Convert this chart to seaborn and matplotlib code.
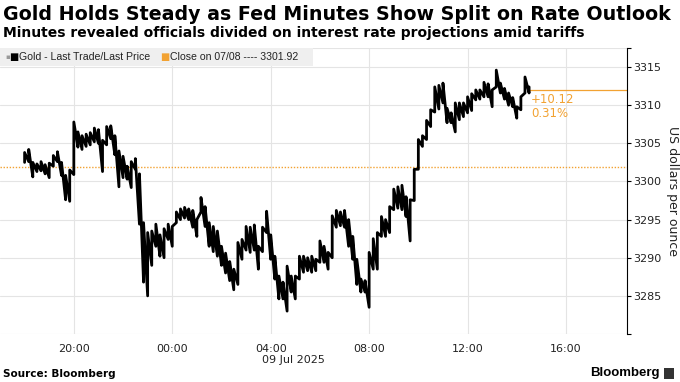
import pandas as pd
import numpy as np
import matplotlib
matplotlib.use('Agg')
import matplotlib.pyplot as plt
import matplotlib.dates as mdates
import seaborn as sns

# 10-minute high / low readings, gold spot, 18:00 Jul 8 -> 14:30 Jul 9
high = [3303.8, 3304.2, 3302.5, 3302.3, 3302.6, 3302.2, 3302.4, 3303.4, 3303.9, 3302.5,
        3300.8, 3301.5, 3307.8, 3306.5, 3306.0, 3306.2, 3306.4, 3307.0, 3306.8, 3305.4,
        3307.2, 3307.3, 3306.0, 3304.0, 3303.3, 3302.0, 3302.6, 3303.0, 3301.0, 3294.6,
        3293.3, 3293.5, 3294.4, 3293.0, 3293.8, 3294.4, 3294.1, 3296.0, 3296.4, 3296.6,
        3296.4, 3296.2, 3295.0, 3297.9, 3296.7, 3294.6, 3294.1, 3293.5, 3291.5, 3290.6,
        3289.5, 3288.5, 3292.0, 3292.4, 3294.1, 3294.0, 3294.3, 3291.5, 3294.0, 3296.1,
        3293.0, 3290.2, 3287.6, 3286.8, 3288.9, 3287.6, 3287.6, 3290.2, 3290.2, 3290.0,
        3290.2, 3289.8, 3292.2, 3291.5, 3290.7, 3295.5, 3296.2, 3296.0, 3296.2, 3295.0,
        3292.8, 3289.8, 3287.2, 3287.0, 3290.7, 3292.5, 3293.3, 3295.4, 3295.0, 3296.7,
        3299.0, 3299.3, 3299.5, 3298.0, 3297.6, 3301.6, 3305.5, 3306.0, 3308.0, 3309.4,
        3312.4, 3312.6, 3312.9, 3309.6, 3309.0, 3310.3, 3310.3, 3310.3, 3311.1, 3311.5,
        3312.0, 3312.0, 3313.0, 3312.8, 3312.0, 3314.6, 3312.9, 3312.2, 3311.6, 3311.0,
        3309.8, 3311.1, 3313.7, 3312.4]
low = [3302.5, 3302.6, 3300.6, 3301.3, 3301.4, 3301.0, 3300.5, 3302.0, 3302.6, 3300.8,
       3297.6, 3297.4, 3300.9, 3304.5, 3304.2, 3304.6, 3304.8, 3305.2, 3305.0, 3301.3,
       3304.8, 3305.6, 3303.5, 3299.3, 3300.5, 3300.3, 3299.2, 3301.6, 3294.4, 3286.8,
       3285.0, 3289.0, 3291.5, 3290.2, 3290.0, 3292.4, 3291.5, 3294.6, 3295.0, 3295.2,
       3295.0, 3294.0, 3292.8, 3296.0, 3294.1, 3291.5, 3290.8, 3290.2, 3289.0, 3288.0,
       3287.0, 3285.8, 3286.5, 3289.8, 3291.0, 3290.7, 3291.0, 3288.5, 3290.8, 3293.3,
       3289.8, 3287.2, 3284.6, 3284.6, 3283.0, 3285.5, 3284.6, 3287.2, 3288.1, 3288.3,
       3288.1, 3288.3, 3289.4, 3289.4, 3288.5, 3290.0, 3294.0, 3294.2, 3294.0, 3291.5,
       3289.8, 3286.5, 3285.5, 3285.5, 3283.5, 3288.5, 3288.5, 3292.8, 3292.8, 3293.3,
       3296.3, 3296.5, 3296.3, 3295.4, 3292.2, 3297.5, 3301.6, 3304.6, 3305.5, 3307.2,
       3309.1, 3309.5, 3310.3, 3307.7, 3307.7, 3306.5, 3308.1, 3308.5, 3309.0, 3309.3,
       3310.7, 3310.8, 3311.1, 3311.1, 3309.8, 3312.4, 3311.6, 3310.8, 3310.0, 3309.8,
       3308.3, 3309.4, 3311.6, 3311.6]
times = pd.date_range('2025-07-08 18:00', periods=len(high), freq='10min')

prev_close = 3301.92
last_price = 3312.04
change = '+10.12'
change_pct = '0.31%'
yticks = [3285, 3290, 3295, 3300, 3305, 3310, 3315]

orange = '#f2a232'

# saw-tooth path low->high on every bar, so the bars join into one ragged line
rows = []
for i, t in enumerate(times):
    rows.append({'time': t, 'price': low[i]})
    rows.append({'time': t, 'price': high[i]})
path = pd.DataFrame(rows)

sns.set_theme(style='white')
plt.rcParams['font.family'] = ['DejaVu Sans']

fig = plt.figure(figsize=(6.8, 3.82), dpi=100)
ax = fig.add_axes([0.0, 1 - 334 / 382, 626.7 / 680, 286 / 382])

sns.lineplot(data=path, x='time', y='price', sort=False, estimator=None,
             color='black', linewidth=2.0, ax=ax, zorder=3)

ax.axhline(prev_close, color=orange, linestyle=(0, (1, 1.2)), linewidth=1.0, zorder=2)
ax.hlines(last_price, times[-1], pd.Timestamp('2025-07-09 18:28'),
          color=orange, linewidth=0.9, zorder=2)

ax.set_xlim(pd.Timestamp('2025-07-08 17:00'), pd.Timestamp('2025-07-09 18:28'))
ax.set_ylim(3280, 3317.5)

ax.xaxis.set_major_locator(mdates.HourLocator(byhour=[0, 4, 8, 12, 16, 20]))
ax.xaxis.set_major_formatter(mdates.DateFormatter('%H:%M'))
ax.set_yticks([3280] + yticks + [3317.5])
ax.set_yticklabels([''] + [str(v) for v in yticks] + [''])
ax.yaxis.tick_right()

ax.grid(True, color='#e4e4e4', linewidth=0.8)
ax.set_axisbelow(True)
for s in ['top', 'left', 'bottom']:
    ax.spines[s].set_visible(False)
ax.spines['right'].set_color('black')
ax.spines['right'].set_linewidth(0.8)
ax.tick_params(axis='x', length=0, pad=7, labelsize=8, colors='#222222')
ax.tick_params(axis='y', length=3, width=0.8, color='black', pad=2,
               labelsize=8, labelcolor='#222222', direction='out')
ax.set_xlabel('')
ax.set_ylabel('US dollars per ounce', rotation=270, fontsize=9, labelpad=12, color='#222222')
ax.yaxis.set_label_position('right')

ax.text(pd.Timestamp('2025-07-09 03:40'), -0.075, '09 Jul 2025', transform=ax.get_xaxis_transform(),
        fontsize=8, color='#222222', va='top', ha='left')

# change labels at the end of the line
ax.text(times[-1] + pd.Timedelta(minutes=5), last_price - 0.4, change, color=orange,
        fontsize=8.5, va='top', ha='left')
ax.text(times[-1] + pd.Timedelta(minutes=5), last_price - 2.3, change_pct, color=orange,
        fontsize=8.5, va='top', ha='left')

# legend strip
ax.add_patch(plt.Rectangle((0, (334 - 66) / 286), 313 / 626.7, 18 / 286, transform=ax.transAxes,
                           facecolor='#efefef', edgecolor='none', zorder=4))
ly = (334 - 57) / 286
ax.text(5 / 626.7, ly, '\u25aa', color='#999999', fontsize=5, va='center', transform=ax.transAxes, zorder=5)
ax.text(9 / 626.7, ly, '\u25a0', color='black', fontsize=7, va='center', transform=ax.transAxes, zorder=5)
ax.text(19 / 626.7, ly, 'Gold - Last Trade/Last Price', fontsize=7.6, va='center',
        family='Liberation Sans', color='#222222', transform=ax.transAxes, zorder=5)
ax.text(160 / 626.7, ly, '\u25a0', color=orange, fontsize=7, va='center', transform=ax.transAxes, zorder=5)
ax.text(170 / 626.7, ly, 'Close on 07/08 ---- 3301.92', fontsize=7.6, va='center',
        family='Liberation Sans', color='#222222', transform=ax.transAxes, zorder=5)

fig.text(3 / 680, 1 - 14 / 382, 'Gold Holds Steady as Fed Minutes Show Split on Rate Outlook',
         fontsize=13.7, fontweight='bold', va='center', ha='left', color='black')
fig.text(3 / 680, 1 - 33 / 382, 'Minutes revealed officials divided on interest rate projections amid tariffs',
         fontsize=10, fontweight='bold', va='center', ha='left', color='black')
fig.text(3 / 680, 1 - 374 / 382, 'Source: Bloomberg', fontsize=7.5, fontweight='bold',
         va='center', ha='left', color='black')
fig.text(660 / 680, 1 - 373 / 382, 'Bloomberg', fontsize=9.5, fontweight='bold',
         va='center', ha='right', color='black', family='Liberation Sans')
fig.patches.append(plt.Rectangle((664 / 680, 1 - 379 / 382), 10 / 680, 11 / 382,
                                 transform=fig.transFigure, facecolor='#333333', edgecolor='none'))

fig.savefig('out.png', dpi=100)
